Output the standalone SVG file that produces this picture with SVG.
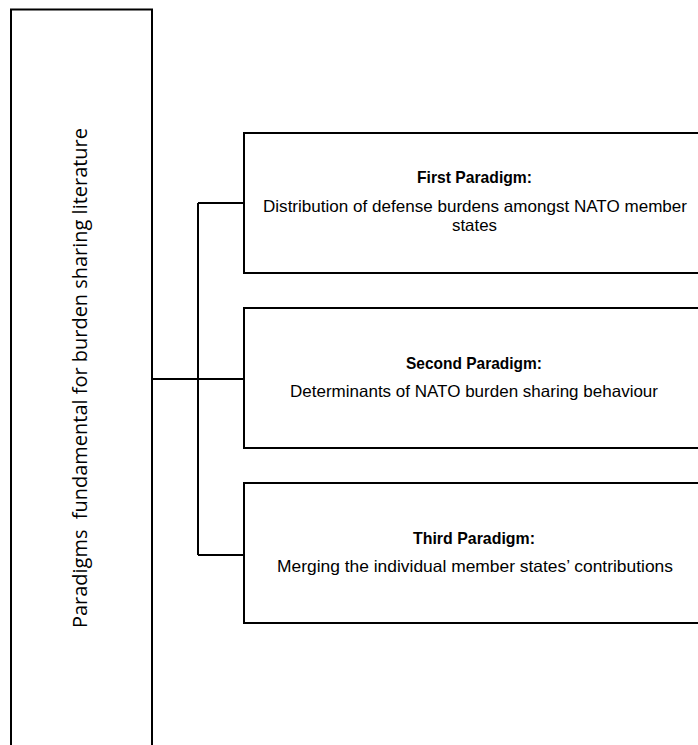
<svg xmlns="http://www.w3.org/2000/svg" width="698" height="745" viewBox="0 0 698 745">
<style>
.box{fill:#fff;stroke:#000;stroke-width:2}
.conn{fill:none;stroke:#000;stroke-width:2}
.t{font-family:"Liberation Sans","Open Sans",Arial,sans-serif;font-size:16.5px;fill:#000;text-anchor:middle}
.b{font-weight:bold;font-size:16.5px}
.side{font-family:"Open Sans","Liberation Sans",sans-serif;font-size:20px;fill:#000;text-anchor:middle;white-space:pre}
</style>
<rect width="698" height="745" fill="#fff"/>
<g id="root">
<rect class="box" x="11" y="9.5" width="141" height="760"/>
<text class="side" transform="translate(87,378) rotate(-90)" textLength="500" lengthAdjust="spacingAndGlyphs">Paradigms  fundamental for burden sharing literature</text>
</g>
<g id="connectors">
<path class="conn" d="M152 379H244M198 203V555M198 203H244M198 555H244"/>
</g>
<g id="first">
<rect class="box" x="244" y="133" width="470" height="140"/>
<text class="t b" x="474.5" y="183" textLength="115" lengthAdjust="spacingAndGlyphs">First Paradigm:</text>
<text class="t" x="475" y="212" textLength="424" lengthAdjust="spacingAndGlyphs">Distribution of defense burdens amongst NATO member</text>
<text class="t" x="474.5" y="231" textLength="45" lengthAdjust="spacingAndGlyphs">states</text>
</g>
<g id="second">
<rect class="box" x="244" y="308" width="470" height="140"/>
<text class="t b" x="474" y="369" textLength="136" lengthAdjust="spacingAndGlyphs">Second Paradigm:</text>
<text class="t" x="474" y="397" textLength="368" lengthAdjust="spacingAndGlyphs">Determinants of NATO burden sharing behaviour</text>
</g>
<g id="third">
<rect class="box" x="244" y="483" width="470" height="140"/>
<text class="t b" x="474" y="544" textLength="122" lengthAdjust="spacingAndGlyphs">Third Paradigm:</text>
<text class="t" x="475" y="572" textLength="396" lengthAdjust="spacingAndGlyphs">Merging the individual member states’ contributions</text>
</g>
</svg>
